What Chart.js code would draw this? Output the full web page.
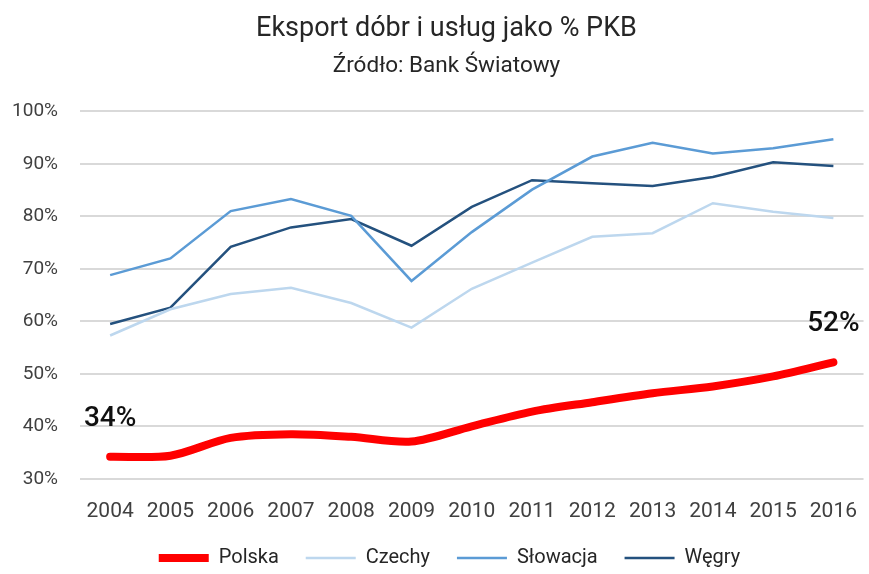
<!DOCTYPE html>
<html>
<head>
<meta charset="utf-8">
<script src="https://cdn.jsdelivr.net/npm/chart.js@4"></script>
<style>
  html, body { margin: 0; padding: 0; background: #fff; }
  #wrap { width: 869px; height: 574px; }
</style>
</head>
<body>
<div id="wrap"><canvas id="chart"></canvas></div>
<script>
// --- data ---
const years = ['2004', '2005', '2006', '2007', '2008', '2009', '2010', '2011', '2012', '2013', '2014', '2015', '2016'];
const polska   = [34.2, 34.4, 37.8, 38.5, 38.0, 37.1, 40.0, 42.8, 44.6, 46.3, 47.6, 49.5, 52.2];
const czechy   = [57.3, 62.3, 65.2, 66.4, 63.5, 58.8, 66.2, 71.2, 76.1, 76.8, 82.5, 80.9, 79.7];
const slowacja = [68.8, 72.0, 81.0, 83.3, 80.1, 67.7, 77.0, 85.1, 91.4, 94.0, 92.0, 93.0, 94.7];
const wegry    = [59.5, 62.6, 74.2, 77.9, 79.5, 74.4, 81.8, 86.9, 86.3, 85.8, 87.5, 90.3, 89.6];
const yTicks   = [30, 40, 50, 60, 70, 80, 90, 100];
// labels shown over first and last Polska point
const calloutIdx = [0, 12];
const calloutText = ['34%', '52%'];

const FONT = 'Roboto, "Noto Sans", sans-serif';

// draws the 34% / 52% callouts above the red line
const callouts = {
  id: 'callouts',
  afterDatasetsDraw(chart) {
    const { ctx } = chart;
    const meta = chart.getDatasetMeta(0);
    ctx.save();
    ctx.font = `500 28px ${FONT}`;
    ctx.fillStyle = '#111';
    ctx.textAlign = 'center';
    ctx.textBaseline = 'middle';
    calloutIdx.forEach((i, k) => {
      const pt = meta.data[i];
      ctx.fillText(calloutText[k], pt.x, pt.y - 38);
    });
    ctx.restore();
  }
};

// the reference centres title and legend a bit right of the canvas middle
const nudgeBoxes = {
  id: 'nudgeBoxes',
  afterLayout(chart) {
    const TitleCls = chart.titleBlock && chart.titleBlock.constructor;
    chart.boxes.forEach(b => {
      let dx = 0;
      if (b === chart.legend) dx = 15;
      else if (TitleCls && b instanceof TitleCls) dx = 12;
      b.left += dx;
      b.right += dx;
    });
  }
};

new Chart(document.getElementById('chart'), {
  type: 'line',
  data: {
    labels: years,
    datasets: [
      { label: 'Polska', data: polska, borderColor: '#ff0000', backgroundColor: '#ff0000',
        borderWidth: 8, tension: 0.3, borderCapStyle: 'round', pointRadius: 0 },
      { label: 'Czechy', data: czechy, borderColor: '#bdd7ee', backgroundColor: '#bdd7ee',
        borderWidth: 2.5, tension: 0, pointRadius: 0 },
      { label: 'Słowacja', data: slowacja, borderColor: '#5b9bd5', backgroundColor: '#5b9bd5',
        borderWidth: 2.5, tension: 0, pointRadius: 0 },
      { label: 'Węgry', data: wegry, borderColor: '#24517e', backgroundColor: '#24517e',
        borderWidth: 2.5, tension: 0, pointRadius: 0 },
    ]
  },
  options: {
    responsive: true,
    maintainAspectRatio: false,
    animation: false,
    layout: { padding: { left: 0, right: 0, top: 13, bottom: -4 } },
    plugins: {
      title: {
        display: true,
        text: 'Eksport dóbr i usług jako % PKB',
        color: '#262626',
        font: { family: FONT, size: 27, weight: '400' },
        padding: { top: 0, bottom: 7 }
      },
      subtitle: {
        display: true,
        text: 'Źródło: Bank Światowy',
        color: '#262626',
        font: { family: FONT, size: 22.5, weight: '400' },
        padding: { top: 0, bottom: 32 }
      },
      legend: {
        position: 'bottom',
        labels: {
          usePointStyle: true,
          pointStyle: 'line',
          pointStyleWidth: 50,
          boxHeight: 10,
          padding: 12,
          color: '#262626',
          font: { family: FONT, size: 20 },
          // extra gap after each item except the last
          generateLabels(chart) {
            const items = Chart.defaults.plugins.legend.labels.generateLabels(chart);
            items.forEach((it, i) => { if (i < items.length - 1) it.text += '   '; });
            return items;
          }
        }
      },
      tooltip: { enabled: false }
    },
    scales: {
      x: {
        offset: true,
        grid: { display: false },
        border: { display: false },
        ticks: { color: '#404040', font: { family: FONT, size: 21 }, padding: 12 }
      },
      y: {
        min: 30,
        max: 100,
        afterBuildTicks(axis) { axis.ticks = yTicks.map(v => ({ value: v })); },
        afterFit(axis) { axis.width = 80; },
        grid: { color: '#d9d9d9', lineWidth: 2, drawTicks: false },
        border: { display: false },
        ticks: {
          color: '#404040',
          font: { family: FONT, size: 19 },
          padding: 22,
          callback: v => v + '%'
        }
      }
    }
  },
  plugins: [callouts, nudgeBoxes]
});
</script>
</body>
</html>
